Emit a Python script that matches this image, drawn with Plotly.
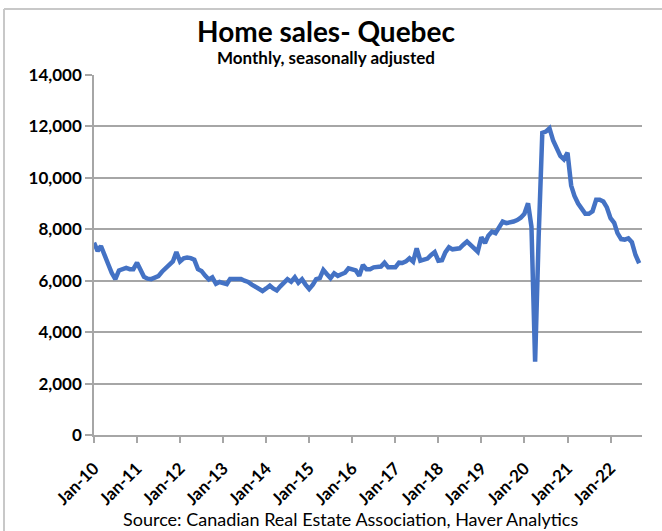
import pandas as pd
import plotly.graph_objects as go

title_text = "Home sales- Quebec"
subtitle_text = "Monthly, seasonally adjusted"
source_text = "Source: Canadian Real Estate Association, Haver Analytics"

start_month = "2010-01-01"
sales = [
    # 2010
    7480, 7150, 7350, 6950, 6650, 6300, 6060, 6400, 6430, 6500, 6450, 6450,
    # 2011
    6700, 6350, 6150, 6080, 6060, 6120, 6180, 6350, 6480, 6600, 6750, 7110,
    # 2012
    6750, 6870, 6900, 6880, 6820, 6450, 6380, 6200, 6050, 6130, 5880, 5950,
    # 2013
    5930, 5870, 6070, 6070, 6070, 6070, 6000, 5950, 5850, 5750, 5680, 5600,
    # 2014
    5700, 5810, 5700, 5620, 5780, 5950, 6060, 5960, 6130, 5920, 6060, 5850,
    # 2015
    5680, 5850, 6060, 6100, 6420, 6250, 6100, 6290, 6190, 6250, 6310, 6480,
    # 2016
    6450, 6400, 6190, 6610, 6450, 6450, 6520, 6530, 6550, 6700, 6520, 6520,
    # 2017
    6520, 6700, 6690, 6750, 6870, 6740, 7260, 6780, 6820, 6860, 7000, 7110,
    # 2018
    6780, 6800, 7100, 7300, 7220, 7240, 7260, 7400, 7520, 7390, 7250, 7130,
    # 2019
    7690, 7460, 7750, 7910, 7850, 8050, 8300, 8240, 8260, 8300, 8360, 8450,
    # 2020
    8600, 9010, 8100, 2850, 7700, 11750, 11800, 11930, 11450, 11100, 10850, 10720,
    # 2021
    10980, 9700, 9300, 9000, 8800, 8600, 8600, 8700, 9150, 9150, 9080, 8850,
    # 2022
    8430, 8250, 7850, 7620, 7600, 7650, 7500, 7000, 6680,
]
months = pd.date_range(start_month, periods=len(sales), freq="MS")

tick_years = list(range(2010, 2023))
tick_vals = [f"{y}-01-01" for y in tick_years]
tick_text = [f"Jan-{str(y)[2:]}" for y in tick_years]

y_ticks = [0, 2000, 4000, 6000, 8000, 10000, 12000, 14000]

FONT = "Lato"

fig = go.Figure()
fig.add_trace(go.Scatter(
    x=months, y=sales, mode="lines",
    line=dict(color="#4472C4", width=4.5, shape="linear"),
    hoverinfo="skip", showlegend=False,
))

W, H = 662, 531
L, R, T, B = 94, 20, 75, 96
pw, ph = W - L - R, H - T - B

def px_x(px):
    return (px - L) / pw

def px_y(py):
    return (H - B - py) / ph

fig.update_layout(
    width=W, height=H,
    margin=dict(l=L, r=R, t=T, b=B, autoexpand=False),
    paper_bgcolor="white", plot_bgcolor="white",
    font=dict(family=FONT, color="black"),
    showlegend=False,
)

fig.update_xaxes(
    type="date",
    range=["2010-01-01", "2022-09-25"],
    tickmode="array", tickvals=tick_vals, ticktext=tick_text,
    tickangle=-45,
    tickfont=dict(family=FONT, size=17, color="black", weight="bold"),
    ticks="outside", ticklen=6, tickcolor="#a6a6a6", tickwidth=1.5,
    ticklabelstandoff=9,
    showline=True, linecolor="#a6a6a6", linewidth=1.5,
    showgrid=False, zeroline=False,
)
fig.update_yaxes(
    range=[0, 14000],
    tickmode="array", tickvals=y_ticks,
    tickformat=",",
    tickfont=dict(family=FONT, size=17, color="black", weight="bold"),
    ticks="outside", ticklen=7, tickcolor="#a6a6a6", tickwidth=1.5,
    showline=True, linecolor="#a6a6a6", linewidth=1.5,
    showgrid=True, gridcolor="#a6a6a6", gridwidth=1.5,
    zeroline=False,
)

fig.add_annotation(
    text=f"<b>{title_text}</b>", xref="paper", yref="paper",
    x=px_x(326), y=px_y(31), xanchor="center", yanchor="middle",
    showarrow=False, font=dict(family=FONT, size=28, color="black"),
)
fig.add_annotation(
    text=f"<b>{subtitle_text}</b>", xref="paper", yref="paper",
    x=px_x(326), y=px_y(58), xanchor="center", yanchor="middle",
    showarrow=False, font=dict(family=FONT, size=17, color="black"),
)
fig.add_annotation(
    text=source_text, xref="paper", yref="paper",
    x=px_x(350), y=px_y(519), xanchor="center", yanchor="middle",
    showarrow=False, font=dict(family=FONT, size=18, color="black"),
)

# chart frame (top and left edges visible)
fig.add_shape(type="line", xref="paper", yref="paper",
              x0=px_x(4), x1=px_x(662), y0=px_y(9), y1=px_y(9),
              line=dict(color="#c8c8c8", width=2))
fig.add_shape(type="line", xref="paper", yref="paper",
              x0=px_x(4), x1=px_x(4), y0=px_y(9), y1=px_y(531),
              line=dict(color="#c8c8c8", width=2))

fig.write_html(
    "out.html",
    config={"displayModeBar": False},
    post_script="document.body.style.margin='0';document.body.style.overflow='hidden';",
)
